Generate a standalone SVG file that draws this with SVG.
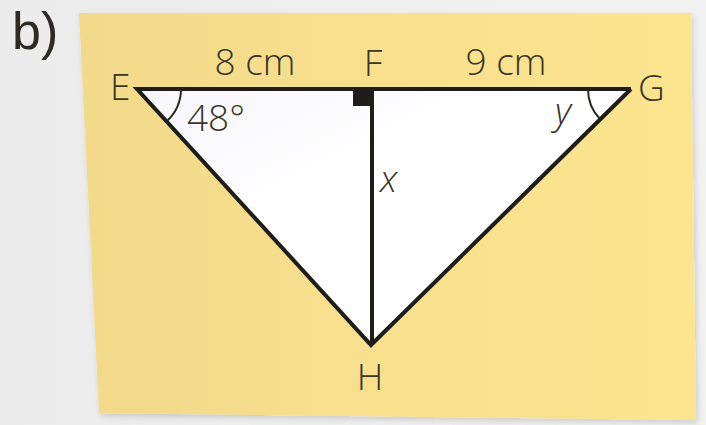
<svg xmlns="http://www.w3.org/2000/svg" width="706" height="425" viewBox="0 0 706 425">
<defs>
<linearGradient id="bg" x1="0" y1="0" x2="1" y2="0">
<stop offset="0" stop-color="#ececec"/>
<stop offset="1" stop-color="#f2f2f2"/>
</linearGradient>
<linearGradient id="card" x1="0" y1="0" x2="1" y2="0">
<stop offset="0" stop-color="#f3da8b"/>
<stop offset="1" stop-color="#fde58f"/>
</linearGradient>
<linearGradient id="tri" x1="0" y1="0" x2="1" y2="1">
<stop offset="0" stop-color="#f7f6fb"/>
<stop offset="0.4" stop-color="#ffffff"/>
<stop offset="1" stop-color="#fdfdfd"/>
</linearGradient>
<filter id="sh" x="-5%" y="-5%" width="110%" height="115%">
<feDropShadow dx="2" dy="3" stdDeviation="3" flood-color="#000" flood-opacity="0.15"/>
</filter>
</defs>
<style>
.t{font-family:"Open Sans","Noto Sans","Liberation Sans",sans-serif;fill:#3a3526;font-weight:300;}
.lbl{font-size:37px;}
.it{font-style:italic;}
.ln{stroke:#1e1d1a;stroke-width:4;fill:none;stroke-linejoin:miter;}
.arc{stroke:#2a2820;stroke-width:2;fill:none;}
</style>
<rect width="706" height="425" fill="url(#bg)"/>
<text x="12" y="49" font-size="52" font-family="Liberation Sans, Arial, sans-serif" fill="#2e2b24">b)</text>
<polygon points="79,13 691,13 696,420 99,413" fill="url(#card)" filter="url(#sh)"/>
<g id="triangle">
<polygon points="137,89 631,89 371,345" fill="url(#tri)"/>
</g>
<g id="connectors">
<polyline class="ln" points="631,89 137,89 371,345 631,89"/>
<line class="ln" x1="372" y1="89" x2="372" y2="345"/>
<rect x="353" y="89" width="19" height="17" fill="#1e1d1a"/>
<path class="arc" d="M181,89 A44,44 0 0 1 167,121"/>
<path class="arc" d="M588,89 A43,43 0 0 0 600,119"/>
</g>
<g id="E"><text class="t lbl" x="110" y="100">E</text></g>
<g id="F"><text class="t lbl" x="373" y="76" text-anchor="middle">F</text></g>
<g id="G"><text class="t lbl" x="638" y="101">G</text></g>
<g id="H"><text class="t lbl" x="370" y="390" text-anchor="middle">H</text></g>
<g id="labels">
<text class="t lbl" x="255" y="75" text-anchor="middle">8 cm</text>
<text class="t lbl" x="506" y="75" text-anchor="middle">9 cm</text>
<text class="t lbl" x="187" y="131">48°</text>
<text class="t lbl it" x="555" y="124">y</text>
<text class="t lbl it" x="380" y="192">x</text>
</g>
</svg>
